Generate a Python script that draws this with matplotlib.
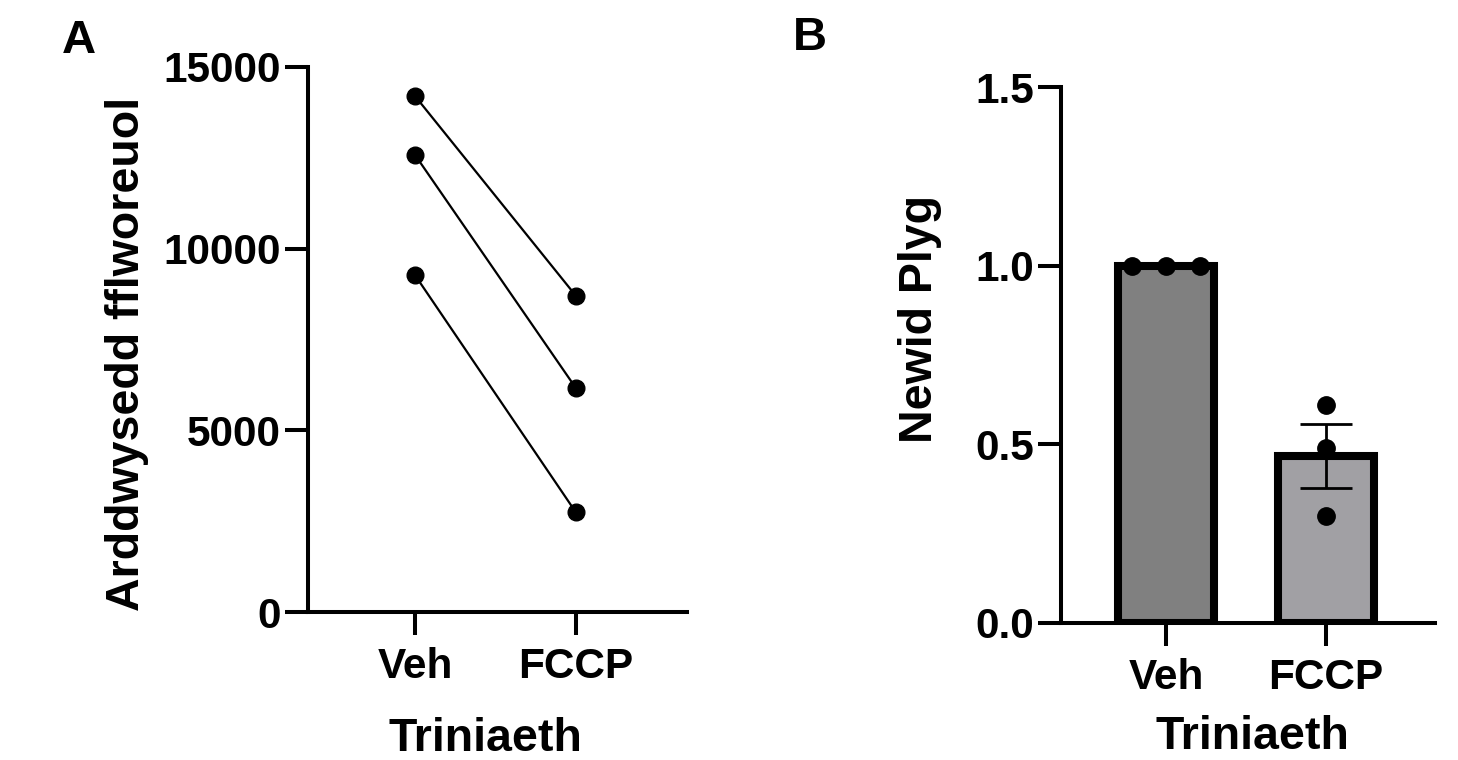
import numpy as np
import matplotlib
matplotlib.use("Agg")
import matplotlib.pyplot as plt

plt.rcParams['font.family'] = ['Liberation Sans', 'DejaVu Sans']
plt.rcParams['font.weight'] = 'bold'

# ---- data ----
categories = ["Veh", "FCCP"]
# Panel A: paired values (each replicate: Veh, FCCP)
veh_intensity = [14200, 12580, 9270]
fccp_intensity = [8700, 6160, 2740]
yticks_a = [0, 5000, 10000, 15000]
# Panel B: fold change replicates
veh_fold = [1.0, 1.0, 1.0]
fccp_fold = [0.61, 0.49, 0.30]
yticks_b = [0.0, 0.5, 1.0, 1.5]
bar_colors = ["#808080", "#a1a0a4"]

W, H = 1458, 760
fig = plt.figure(figsize=(W / 100, H / 100), dpi=100)

def box(l, r, b, t):
    return [l / W, 1 - b / H, (r - l) / W, (b - t) / H]

spine_lw = 2.9
tick_len = 16.5
tick_fs = 30.5
label_fs = 33.5

def style(ax):
    for s in ["top", "right"]:
        ax.spines[s].set_visible(False)
    for s in ["left", "bottom"]:
        ax.spines[s].set_linewidth(spine_lw)
    ax.tick_params(axis="both", width=spine_lw, length=tick_len, labelsize=tick_fs)
    ax.tick_params(axis="y", pad=3)
    ax.tick_params(axis="x", pad=9)
    for lab in ax.get_xticklabels() + ax.get_yticklabels():
        lab.set_fontweight("bold")

# ---- Panel A ----
axA = fig.add_axes(box(308, 687, 612, 67))
x = np.arange(len(categories))
for v, f in zip(veh_intensity, fccp_intensity):
    axA.plot(x, [v, f], color="black", lw=1.6, marker="o", markersize=12,
             markerfacecolor="black", markeredgecolor="black", clip_on=False, zorder=3)
axA.set_xlim(-0.665, 1.69)
axA.set_ylim(0, 15000)
axA.set_yticks(yticks_a)
axA.set_yticklabels([str(t) for t in yticks_a])
axA.set_xticks(x)
axA.set_xticklabels(categories)
style(axA)
axA.set_xlabel("Triniaeth", fontsize=label_fs, fontweight="bold")
axA.xaxis.set_label_coords(0.467, -0.193)
axA.set_ylabel("Arddwysedd fflworeuol", fontsize=label_fs, fontweight="bold")
axA.yaxis.label.set_va("center")
axA.yaxis.set_label_coords(-0.478, 0.473)

# ---- Panel B ----
axB = fig.add_axes(box(1061, 1435, 623, 87))
groups = [veh_fold, fccp_fold]
means = [np.mean(g) for g in groups]
sems = [np.std(g, ddof=1) / np.sqrt(len(g)) for g in groups]
axB.bar(x, means, width=0.6, color=bar_colors, edgecolor="black", linewidth=5.8, zorder=2)
axB.errorbar(x, means, yerr=sems, fmt="none", ecolor="black", elinewidth=2,
             capsize=19, capthick=2, zorder=3)
offsets = [[-0.21, 0.0, 0.21], [0.0, 0.0, 0.0]]
for i, g in enumerate(groups):
    axB.plot(x[i] + np.array(offsets[i]), g, "o", color="black", markersize=12.5,
             zorder=4, clip_on=False)
axB.set_xlim(-0.656, 1.68)
axB.set_ylim(0, 1.5)
axB.set_yticks(yticks_b)
axB.set_yticklabels([f"{t:.1f}" for t in yticks_b])
axB.set_xticks(x)
axB.set_xticklabels(categories)
style(axB)
axB.set_xlabel("Triniaeth", fontsize=label_fs, fontweight="bold")
axB.xaxis.set_label_coords(0.513, -0.171)
axB.set_ylabel("Newid Plyg", fontsize=label_fs, fontweight="bold")
axB.yaxis.label.set_va("center")
axB.yaxis.set_label_coords(-0.376, 0.567)

fig.text(62 / W, 1 - 53 / H, "A", fontsize=34, fontweight="bold", ha="left", va="baseline")
fig.text(793 / W, 1 - 50 / H, "B", fontsize=34, fontweight="bold", ha="left", va="baseline")

fig.savefig("out.png", dpi=100)
